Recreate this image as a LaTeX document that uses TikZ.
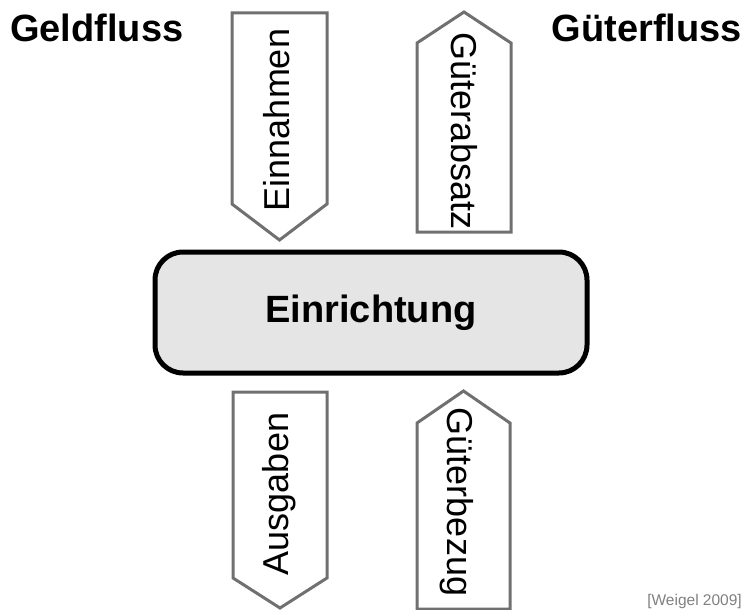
\documentclass[tikz,border=0pt]{standalone}
\usepackage{fontspec}
\setmainfont{Liberation Sans}
\definecolor{flowgray}{HTML}{707070}
\definecolor{boxgray}{HTML}{E5E5E5}
\definecolor{notegray}{HTML}{808080}
\begin{document}
\begin{tikzpicture}[x=1pt,y=-1pt,
  flow/.style={draw=flowgray, line width=3pt, fill=white, line join=miter},
  flowlabel/.style={font=\fontsize{36}{40}\selectfont, inner sep=0pt},
  heading/.style={font=\fontsize{38}{42}\selectfont\bfseries, inner sep=0pt},
  centerbox/.style={draw=black, line width=5pt, fill=boxgray, rounded corners=28pt,
    minimum width=432pt, minimum height=121pt, inner sep=0pt,
    font=\fontsize{38}{42}\selectfont\bfseries},
  note/.style={font=\fontsize{15.5}{18}\selectfont, text=notegray, inner sep=0pt}
]
\useasboundingbox (0,0) rectangle (745,610);

% headings
\node[heading, anchor=base west] (geld) at (10,42) {Geldfluss};
\node[heading, anchor=base east] (gueter) at (742,42) {Güterfluss};

% central institution
\node[centerbox] (einr) at (371,312.5) {Einrichtung};

% money flows (left column)
\draw[flow] (232,13) -- (327,13) -- (327,204) -- (279.5,240) -- (232,204) -- cycle;
\node[flowlabel, rotate=90] (einn) at (277,120) {Einnahmen};

\draw[flow] (233,392) -- (327,392) -- (327,578) -- (280,608) -- (233,578) -- cycle;
\node[flowlabel, rotate=90] (ausg) at (279,494) {Ausgaben};

% goods flows (right column)
\draw[flow] (417,232) -- (417,43) -- (464,12) -- (511,43) -- (511,232) -- cycle;
\node[flowlabel, rotate=-90] (absatz) at (464,131) {Güterabsatz};

\draw[flow] (417,609) -- (417,423) -- (463.5,391) -- (510,423) -- (510,609) -- cycle;
\node[flowlabel, rotate=-90] (bezug) at (457,502) {Güterbezug};

% source
\node[note, anchor=base east] (src) at (742,605) {[Weigel 2009]};
\end{tikzpicture}
\end{document}
